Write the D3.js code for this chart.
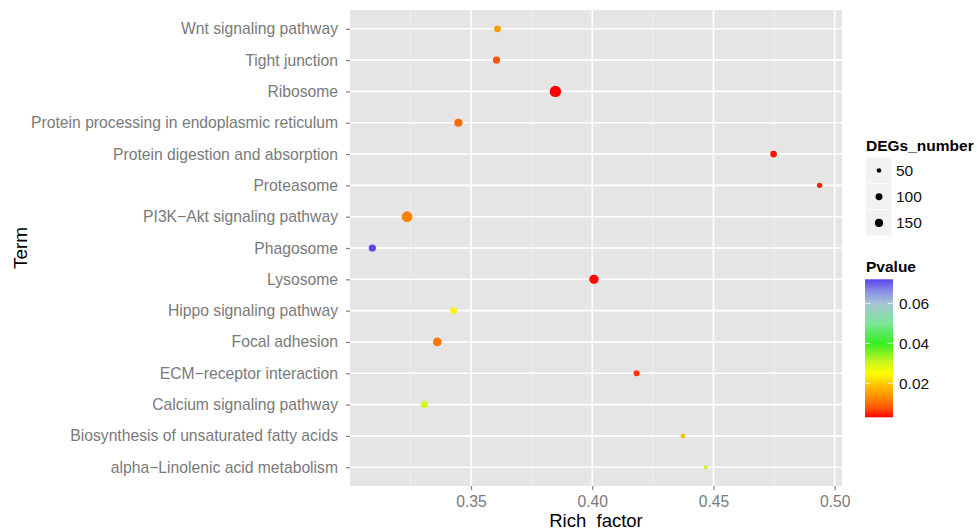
<!DOCTYPE html>
<html>
<head>
<meta charset="utf-8">
<script src="https://cdn.jsdelivr.net/npm/d3@7"></script>
<style>
  html, body { margin: 0; padding: 0; background: #fff; }
  svg { display: block; font-family: "Liberation Sans", Arial, Helvetica, sans-serif; }
</style>
</head>
<body>
<svg id="chart" width="978" height="530"></svg>
<script>
// ---------- data (top to bottom as displayed) ----------
const terms = [
  "Wnt signaling pathway",
  "Tight junction",
  "Ribosome",
  "Protein processing in endoplasmic reticulum",
  "Protein digestion and absorption",
  "Proteasome",
  "PI3K\u2212Akt signaling pathway",
  "Phagosome",
  "Lysosome",
  "Hippo signaling pathway",
  "Focal adhesion",
  "ECM\u2212receptor interaction",
  "Calcium signaling pathway",
  "Biosynthesis of unsaturated fatty acids",
  "alpha\u2212Linolenic acid metabolism"
];
const richFactor = [0.3609, 0.3605, 0.3848, 0.3448, 0.4748, 0.4938, 0.3236, 0.3093, 0.4007, 0.3428, 0.3361, 0.4183, 0.3307, 0.4374, 0.4468];
const degsNumber = [94, 115, 361, 150, 92, 59, 311, 112, 215, 90, 181, 76, 110, 50, 45];
const pValue     = [0.015, 0.008, 0.003, 0.010, 0.004, 0.0045, 0.012, 0.072, 0.0035, 0.024, 0.011, 0.006, 0.029, 0.018, 0.031];

const xTicks = [0.35, 0.40, 0.45, 0.50];
const xMinorTicks = [0.325, 0.375, 0.425, 0.475];
const sizeLegendValues = [50, 100, 150];
const pLegendTicks = [0.02, 0.04, 0.06];
const pColorStops = [0.003, 0.007, 0.013, 0.02, 0.025, 0.031, 0.04, 0.05, 0.06, 0.066, 0.072];
const pColors = ["#ff0000", "#ff4a00", "#ff8c00", "#ffcc00", "#ffff00", "#c4f520", "#33ee22", "#7fe69a", "#a6c4d6", "#8a8fe6", "#5a44f0"];

const data = terms.map((t, i) => ({ term: t, rich: richFactor[i], n: degsNumber[i], p: pValue[i] }));

// ---------- layout ----------
const P = { left: 350, top: 10, right: 842, bottom: 486 };
const svg = d3.select("#chart");
const FONT_AX = 15.7;

// ---------- scales ----------
const rMin = d3.min(richFactor), rMax = d3.max(richFactor);
const pad = (rMax - rMin) * 0.05;
const x = d3.scaleLinear().domain([rMin - pad, rMax + pad]).range([P.left, P.right]);
const y = d3.scalePoint().domain(terms).range([P.top, P.bottom]).padding(0.6);

const nMin = d3.min(degsNumber), nMax = d3.max(degsNumber);
const sizeT = d3.scaleSqrt().domain([0, nMax - nMin]).range([0, 1]).clamp(true);
const radiusOf = d3.scaleLinear().domain([0, 1]).range([1.85, 5.7]);
const rad = n => radiusOf(sizeT(n - nMin));

const color = d3.scaleLinear().domain(pColorStops).range(pColors).clamp(true);

// ---------- panel ----------
svg.append("rect").attr("x", P.left).attr("y", P.top)
  .attr("width", P.right - P.left).attr("height", P.bottom - P.top)
  .attr("fill", "#e5e5e5");

svg.append("g").selectAll("line").data(xMinorTicks).join("line")
  .attr("x1", d => x(d)).attr("x2", d => x(d))
  .attr("y1", P.top).attr("y2", P.bottom)
  .attr("stroke", "#f0f0f0").attr("stroke-width", 0.8);

svg.append("g").selectAll("line").data(xTicks).join("line")
  .attr("x1", d => x(d)).attr("x2", d => x(d))
  .attr("y1", P.top).attr("y2", P.bottom)
  .attr("stroke", "#ffffff").attr("stroke-width", 1.6);

svg.append("g").selectAll("line").data(terms).join("line")
  .attr("x1", P.left).attr("x2", P.right)
  .attr("y1", d => y(d)).attr("y2", d => y(d))
  .attr("stroke", "#ffffff").attr("stroke-width", 1.6);

// ---------- axes ----------
const xAxis = d3.axisBottom(x).tickValues(xTicks).tickFormat(d3.format(".2f")).tickSize(4).tickPadding(3);
const gx = svg.append("g").attr("transform", `translate(0,${P.bottom})`).call(xAxis);
gx.select(".domain").remove();
gx.selectAll(".tick line").attr("stroke", "#7f7f7f").attr("stroke-width", 1.2);
gx.selectAll(".tick text").attr("fill", "#7a7a7a").attr("font-size", FONT_AX)
  .attr("font-family", "Liberation Sans, Arial, sans-serif").attr("dy", "0.87em");

const yAxis = d3.axisLeft(y).tickSize(4).tickPadding(8);
const gy = svg.append("g").attr("transform", `translate(${P.left},0)`).call(yAxis);
gy.select(".domain").remove();
gy.selectAll(".tick line").attr("stroke", "#7f7f7f").attr("stroke-width", 1.2);
gy.selectAll(".tick text").attr("fill", "#7a7a7a").attr("font-size", FONT_AX)
  .attr("font-family", "Liberation Sans, Arial, sans-serif");

// axis titles
svg.append("text").attr("x", (P.left + P.right) / 2).attr("y", 526.5)
  .attr("text-anchor", "middle").attr("font-size", 18.5).attr("fill", "#000")
  .text("Rich_factor");
svg.append("text").attr("transform", `translate(27,${(P.top + P.bottom) / 2}) rotate(-90)`)
  .attr("text-anchor", "middle").attr("font-size", 19).attr("fill", "#000")
  .text("Term");

// ---------- points ----------
svg.append("g").selectAll("circle").data(data).join("circle")
  .attr("cx", d => x(d.rich)).attr("cy", d => y(d.term))
  .attr("r", d => rad(d.n)).attr("fill", d => color(d.p));

// ---------- size legend ----------
const LX = 866;
svg.append("text").attr("x", LX).attr("y", 151).attr("font-size", 15.5)
  .attr("font-weight", "bold").attr("fill", "#000").text("DEGs_number");
const keyH = 26.2, keyY0 = 157.5;
const sl = svg.append("g").selectAll("g").data(sizeLegendValues).join("g")
  .attr("transform", (d, i) => `translate(${LX},${keyY0 + i * keyH})`);
sl.append("rect").attr("width", 25.5).attr("height", 25.5).attr("fill", "#f2f2f2");
sl.append("circle").attr("cx", 13).attr("cy", 13).attr("r", d => rad(d)).attr("fill", "#000");
sl.append("text").attr("x", 30).attr("y", 13).attr("dy", "0.36em")
  .attr("font-size", 15.5).attr("fill", "#111").text(d => d);

// ---------- colour legend ----------
svg.append("text").attr("x", LX).attr("y", 272).attr("font-size", 15.5)
  .attr("font-weight", "bold").attr("fill", "#000").text("Pvalue");
const pMin = d3.min(pValue), pMax = d3.max(pValue);
const cb = { x: 865, y: 279.3, w: 28, h: 138 };
const cy = d3.scaleLinear().domain([pMin, pMax]).range([cb.y + cb.h, cb.y]);
const defs = svg.append("defs");
const grad = defs.append("linearGradient").attr("id", "pgrad")
  .attr("x1", 0).attr("y1", 1).attr("x2", 0).attr("y2", 0);
d3.range(0, 1.0001, 0.02).forEach(t => {
  grad.append("stop").attr("offset", t).attr("stop-color", color(pMin + t * (pMax - pMin)));
});
svg.append("rect").attr("x", cb.x).attr("y", cb.y).attr("width", cb.w).attr("height", cb.h)
  .attr("fill", "url(#pgrad)");
const ct = svg.append("g").selectAll("g").data(pLegendTicks).join("g")
  .attr("transform", d => `translate(0,${cy(d)})`);
ct.append("line").attr("x1", cb.x).attr("x2", cb.x + 5.5).attr("stroke", "#fff").attr("stroke-width", 1).attr("opacity", 0.8);
ct.append("line").attr("x1", cb.x + cb.w - 5.5).attr("x2", cb.x + cb.w).attr("stroke", "#fff").attr("stroke-width", 1).attr("opacity", 0.8);
ct.append("text").attr("x", 899).attr("dy", "0.36em").attr("font-size", 15.5)
  .attr("fill", "#111").text(d => d3.format(".2f")(d));
</script>
</body>
</html>
